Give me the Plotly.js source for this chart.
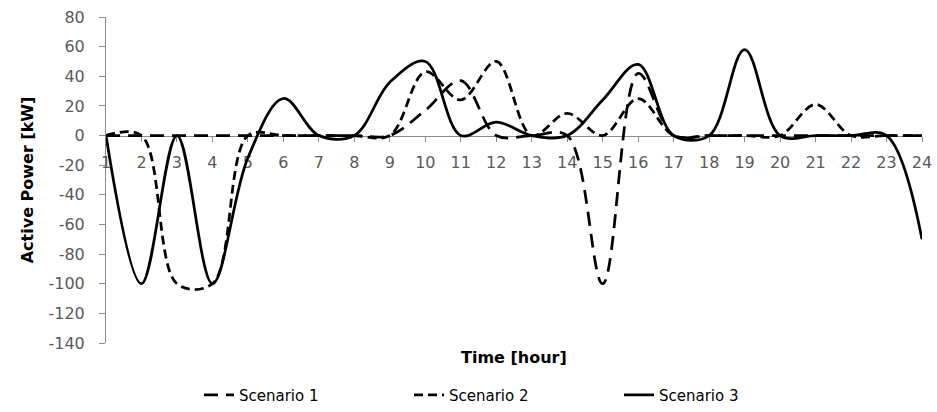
<!DOCTYPE html>
<html>
<head>
<meta charset="utf-8">
<script src="https://cdn.plot.ly/plotly-3.0.1.min.js"></script>
<style>
  html, body { margin: 0; padding: 0; background: #ffffff; }
  #chart { width: 937px; height: 412px; }
</style>
</head>
<body>
<div id="chart"></div>
<script>
// Hourly active power for three operating scenarios
const hours = [1, 2, 3, 4, 5, 6, 7, 8, 9, 10, 11, 12, 13, 14, 15, 16, 17, 18, 19, 20, 21, 22, 23, 24];
const hourLabels = ['1', '2', '3', '4', '5', '6', '7', '8', '9', '10', '11', '12',
                    '13', '14', '15', '16', '17', '18', '19', '20', '21', '22', '23', '24'];

const scenario1 = [0, 0, 0, 0, 0, 0, 0, 0, 0, 17, 37, 0, 0, 0, -100, 42, 0, 0, 0, 0, 0, 0, 0, 0];
const scenario2 = [0, 0, -100, -100, 0, 0, 0, 0, 0, 43, 24, 50, 0, 15, 0, 25, 0, 0, 0, 0, 21, 0, 0, 0];
const scenario3 = [0, -100, 0, -100, -15, 25, 0, 0, 36, 50, 0, 9, 0, 0, 24, 48, 0, 0, 58, 0, 0, 0, 0, -70];

const yTicks = [80, 60, 40, 20, 0, -20, -40, -60, -80, -100, -120, -140];

const FONT = 'DejaVu Sans, Verdana, sans-serif';
const AXIS_GREY = '#8c8c8c';

function series(name, values, dash) {
  return {
    type: 'scatter',
    mode: 'lines',
    name: name,
    x: hours,
    y: values,
    line: { color: '#000000', width: 2.75, dash: dash, shape: 'spline', smoothing: 1 },
    hoverinfo: 'x+y+name'
  };
}

const data = [
  series('Scenario 1', scenario1, '14px,8px'),
  series('Scenario 2', scenario2, '9px,5px'),
  series('Scenario 3', scenario3, 'solid')
];

const layout = {
  width: 937,
  height: 412,
  margin: { l: 106, r: 15, t: 17, b: 69 },
  paper_bgcolor: '#ffffff',
  plot_bgcolor: '#ffffff',
  font: { family: FONT, size: 15, color: '#404040' },
  showlegend: true,
  legend: {
    orientation: 'h',
    x: 0.5, xanchor: 'center',
    yref: 'container',
    y: 17 / 412, yanchor: 'middle',
    font: { family: FONT, size: 15, color: '#000000' },
    traceorder: 'normal',
    entrywidth: 165,
    bgcolor: 'rgba(0,0,0,0)'
  },
  xaxis: {
    range: [1, 24],
    tickmode: 'array',
    tickvals: hours,
    ticktext: hourLabels,
    anchor: 'free',
    position: 140 / 220,
    showline: true,
    linecolor: AXIS_GREY,
    linewidth: 1,
    ticks: 'outside',
    ticklen: 5,
    tickcolor: AXIS_GREY,
    tickwidth: 1,
    showgrid: false,
    zeroline: false,
    layer: 'below traces',
    tickfont: { family: FONT, size: 16, color: '#595959' },
    ticklabelstandoff: 7,
    fixedrange: true
  },
  yaxis: {
    range: [-140, 80],
    tickmode: 'array',
    tickvals: yTicks,
    ticktext: yTicks.map(String),
    showline: true,
    linecolor: AXIS_GREY,
    linewidth: 1,
    ticks: 'outside',
    ticklen: 6,
    tickcolor: AXIS_GREY,
    tickwidth: 1,
    showgrid: false,
    zeroline: false,
    layer: 'below traces',
    tickfont: { family: FONT, size: 16, color: '#595959' },
    ticklabelstandoff: 11,
    title: {
      text: 'Active Power [kW]',
      font: { family: FONT, size: 16, color: '#000000', weight: 'bold' },
      standoff: 10
    },
    fixedrange: true
  },
  annotations: [{
    text: '<b>Time [hour]</b>',
    xref: 'paper', yref: 'paper',
    x: 0.5, y: -0.043,
    xanchor: 'center', yanchor: 'middle',
    showarrow: false,
    font: { family: FONT, size: 16, color: '#000000' }
  }]
};

Plotly.newPlot('chart', data, layout, { displayModeBar: false, staticPlot: true });
</script>
</body>
</html>
